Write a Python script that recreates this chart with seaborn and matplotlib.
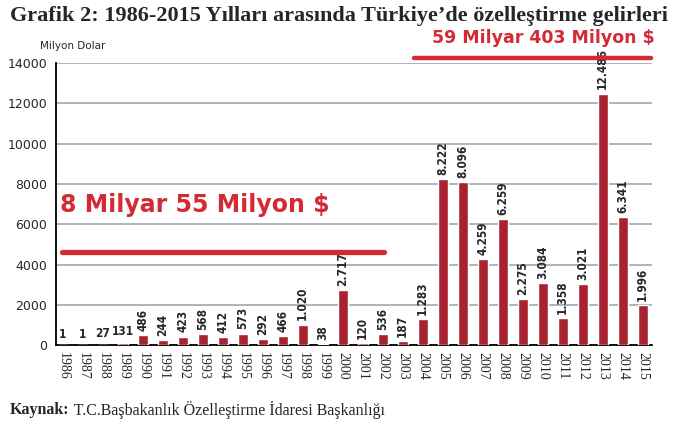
import seaborn as sns
import matplotlib.pyplot as plt
import pandas as pd
from matplotlib.ticker import FixedLocator

# --- veriler ---
YILLAR = [str(y) for y in range(1986, 2016)]
GELIRLER = [1, 1, 27, 131, 486, 244, 423, 568, 412, 573, 292, 466, 1020, 38,
            2717, 120, 536, 187, 1283, 8222, 8096, 4259, 6259, 2275, 3084,
            1358, 3021, 12486, 6341, 1996]
YATAY_ETIKET = 4  # ilk dort deger yatay yaziliyor

BASLIK = "Grafik 2: 1986-2015 Yılları arasında Türkiye’de özelleştirme gelirleri"
KAYNAK_BOLD = "Kaynak:"
KAYNAK = " T.C.Başbakanlık Özelleştirme İdaresi Başkanlığı"
TOPLAM_1 = "8 Milyar 55 Milyon $"
TOPLAM_2 = "59 Milyar 403 Milyon $"

BAR_RENK = "#a8232f"
KIRMIZI = "#d42a35"
GRID_RENK = "#a3b0bd"

df = pd.DataFrame({"Yil": YILLAR, "Gelir": GELIRLER})

sns.set_style("white")
plt.rcParams['font.family'] = ['DejaVu Sans']

fig = plt.figure(figsize=(6.89, 4.32), dpi=100)
ax = fig.add_axes([0.081, 0.201, 0.865, 0.653])

ax.set_axisbelow(True)
ax.yaxis.grid(True, color=GRID_RENK, linewidth=1.3)
sns.barplot(data=df, x="Yil", y="Gelir", color=BAR_RENK, width=0.5,
            saturation=1, ax=ax, zorder=3)

ax.set_xlim(-0.35, 29.45)
ax.set_ylim(0, 14000)
ax.set_yticks(range(0, 14001, 2000))
ax.set_xlabel("")
ax.set_ylabel("")

for s in ["top", "right"]:
    ax.spines[s].set_visible(False)
for s in ["left", "bottom"]:
    ax.spines[s].set_color("black")
    ax.spines[s].set_linewidth(1.3)

ax.tick_params(axis="y", length=4, width=1, color="black", labelsize=9, pad=2)
ax.tick_params(axis="x", which="major", length=0, pad=5)
ax.xaxis.set_minor_locator(FixedLocator([i + 0.5 for i in range(30)]))
ax.tick_params(axis="x", which="minor", length=5, width=1, color="black")
for lbl in ax.get_xticklabels():
    lbl.set_rotation(-90)
    lbl.set_family(["Liberation Serif"])
    lbl.set_fontsize(10)
    lbl.set_va("top")

# deger etiketleri
for i, v in enumerate(GELIRLER):
    metin = f"{v:,}".replace(",", ".")
    rot = 0 if i < YATAY_ETIKET else 90
    ax.annotate(metin, (i, v), xytext=(0, 3), textcoords="offset points",
                ha="center", va="bottom", rotation=rot, fontsize=8.5,
                fontweight="bold", fontstretch="condensed",
                family=["DejaVu Sans"], zorder=5)

# kirmizi toplamlar
fig.text(60 / 689, 1 - 205 / 432, TOPLAM_1, color=KIRMIZI, fontsize=17,
         fontweight="bold", va="center", ha="left")
fig.add_artist(plt.Line2D([62 / 689, 384 / 689], [1 - 252 / 432] * 2,
                          color=KIRMIZI, linewidth=3.8, solid_capstyle="round"))
fig.text(655 / 689, 1 - 38 / 432, TOPLAM_2, color=KIRMIZI, fontsize=12.5,
         fontweight="bold", va="center", ha="right")
fig.add_artist(plt.Line2D([414 / 689, 651 / 689], [1 - 58 / 432] * 2,
                          color=KIRMIZI, linewidth=3.2, solid_capstyle="round"))

# basliklar
fig.text(10 / 689, 1 - 16 / 432, BASLIK, fontsize=16, fontweight="bold",
         family=["Liberation Serif"], va="center", ha="left")
fig.text(40 / 689, 1 - 46 / 432, "Milyon Dolar", fontsize=7.5, va="center", ha="left")
t = fig.text(10 / 689, 1 - 410 / 432, KAYNAK_BOLD, fontsize=11.5, fontweight="bold",
             family=["Liberation Serif"], va="center", ha="left")
fig.canvas.draw()
bb = t.get_window_extent()
fig.text(bb.x1 / fig.bbox.width, 1 - 410 / 432, KAYNAK, fontsize=11.5,
         family=["Liberation Serif"], va="center", ha="left")

fig.savefig("out.png", dpi=100)
